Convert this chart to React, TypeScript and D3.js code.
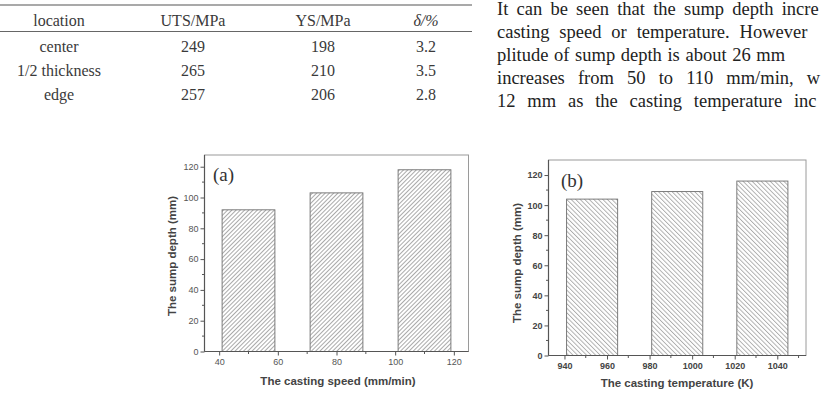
import * as d3 from 'd3';
import React, { useEffect, useRef } from 'react';

// mechanical properties table
const tableHeader = ['location', 'UTS/MPa', 'YS/MPa', 'δ/%'];
const locations = ['center', '1/2 thickness', 'edge'];
const utsValues = ['249', '265', '257'];
const ysValues = ['198', '210', '206'];
const elongValues = ['3.2', '3.5', '2.8'];

// body text beside the table
const paragraphLines = [
    'It can be seen that the sump depth incre',
    'casting speed or temperature. However',
    'plitude of sump depth is about 26 mm',
    'increases from 50 to 110 mm/min, w',
    '12 mm as the casting temperature inc',
];

// (a) sump depth vs casting speed
const speedValues = [50, 80, 110];
const speedDepth = [92, 103, 118];
const speedTicks = [40, 60, 80, 100, 120];

// (b) sump depth vs casting temperature
const tempValues = [953, 993, 1033];
const tempDepth = [104, 109, 116];
const tempTicks = [940, 960, 980, 1000, 1020, 1040];

const depthTicks = [0, 20, 40, 60, 80, 100, 120];

const W = 823;
const H = 394;

function drawPanel(svg, p) {
    const x = d3.scaleLinear().domain(p.xDomain).range([p.left, p.right]);
    const y = d3.scaleLinear().domain(p.yDomain).range([p.bottom, p.top]);
    const barW = x(p.xDomain[0] + p.barWidth) - x(p.xDomain[0]);

    const g = svg.append('g');

    // hatch fill
    const pat = svg.append('defs').append('pattern')
        .attr('id', p.id + '-hatch')
        .attr('patternUnits', 'userSpaceOnUse')
        .attr('width', p.hatchGap)
        .attr('height', 10)
        .attr('patternTransform', 'rotate(' + p.hatchAngle + ')');
    pat.append('rect').attr('width', p.hatchGap).attr('height', 10).attr('fill', '#fff');
    pat.append('line')
        .attr('x1', 0.5).attr('x2', 0.5).attr('y1', 0).attr('y2', 10)
        .attr('stroke', '#858585').attr('stroke-width', 0.7);

    // frame
    g.append('rect')
        .attr('x', p.left).attr('y', p.top)
        .attr('width', p.right - p.left).attr('height', p.bottom - p.top)
        .attr('fill', 'none').attr('stroke', '#9a9a9a').attr('stroke-width', 1);

    g.selectAll('.bar')
        .data(p.xs.map((v, i) => ({ x: v, y: p.ys[i] })))
        .enter()
        .append('rect')
        .attr('class', 'bar')
        .attr('x', d => x(d.x) - barW / 2)
        .attr('width', barW)
        .attr('y', d => y(d.y))
        .attr('height', d => y(0) - y(d.y))
        .attr('fill', 'url(#' + p.id + '-hatch)')
        .attr('stroke', '#6e6e6e')
        .attr('stroke-width', 0.9);

    const minorX = d3.range(p.xMinor[0], p.xMinor[1] + 1, 20);
    const minorY = d3.range(10, 130, 20);

    const xAxis = g.append('g').attr('transform', 'translate(0,' + p.bottom + ')');
    xAxis.call(d3.axisBottom(x).tickValues(p.xTicks).tickFormat(d3.format('d'))
        .tickSize(4).tickPadding(3).tickSizeOuter(0));
    xAxis.append('g').selectAll('line').data(minorX).enter().append('line')
        .attr('x1', d => x(d)).attr('x2', d => x(d)).attr('y1', 0).attr('y2', 2.5)
        .attr('stroke', '#555');

    const yAxis = g.append('g').attr('transform', 'translate(' + p.left + ',0)');
    yAxis.call(d3.axisLeft(y).tickValues(depthTicks).tickSize(4).tickPadding(2).tickSizeOuter(0));
    yAxis.append('g').selectAll('line').data(minorY).enter().append('line')
        .attr('y1', d => y(d)).attr('y2', d => y(d)).attr('x1', 0).attr('x2', -2.5)
        .attr('stroke', '#555');

    [xAxis, yAxis].forEach(a => {
        a.select('.domain').attr('stroke', '#555').attr('stroke-width', 1.2);
        a.selectAll('.tick line').attr('stroke', '#555');
        a.selectAll('.tick text')
            .attr('fill', p.tickWeight === 'bold' ? '#444' : '#555')
            .attr('font-family', 'Liberation Sans, Arial, sans-serif')
            .attr('font-size', 9)
            .attr('font-weight', p.tickWeight);
    });
    xAxis.select('.domain').attr('d', 'M' + p.left + ',0H' + p.right);
    yAxis.select('.domain').attr('d', 'M0,' + p.bottom + 'V' + p.top);

    g.append('text')
        .attr('x', p.xLabelX)
        .attr('y', p.xLabelY)
        .attr('text-anchor', 'middle')
        .attr('font-family', 'Liberation Sans, Arial, sans-serif')
        .attr('font-weight', 'bold')
        .attr('font-size', 11.5)
        .attr('fill', '#444')
        .text(p.xLabel);

    g.append('text')
        .attr('transform', 'translate(' + p.yLabelX + ',' + p.yLabelY + ') rotate(-90)')
        .attr('text-anchor', 'middle')
        .attr('font-family', 'Liberation Sans, Arial, sans-serif')
        .attr('font-weight', 'bold')
        .attr('font-size', 11.5)
        .attr('fill', '#444')
        .text('The sump depth (mm)');

    g.append('text')
        .attr('x', p.tagX).attr('y', p.tagY)
        .attr('font-family', 'Liberation Serif, Times New Roman, serif')
        .attr('font-size', 19)
        .attr('fill', '#333')
        .text(p.tag);
}

function drawTable(svg) {
    const colX = [59, 193, 323, 426];
    const serif = 'Liberation Serif, Times New Roman, serif';
    const t = svg.append('g').attr('font-family', serif).attr('font-size', 16).attr('fill', '#3a3a3a');

    t.append('line').attr('x1', 0).attr('x2', 472).attr('y1', 5).attr('y2', 5)
        .attr('stroke', '#555').attr('stroke-width', 1.2);
    t.append('line').attr('x1', 0).attr('x2', 472).attr('y1', 31.5).attr('y2', 31.5)
        .attr('stroke', '#666').attr('stroke-width', 1);

    tableHeader.forEach((h, i) => {
        t.append('text').attr('x', colX[i]).attr('y', 26)
            .attr('text-anchor', 'middle')
            .attr('font-style', i === 3 ? 'italic' : 'normal')
            .text(h);
    });

    const rows = locations.map((loc, i) => [loc, utsValues[i], ysValues[i], elongValues[i]]);
    rows.forEach((row, r) => {
        row.forEach((cell, i) => {
            t.append('text').attr('x', colX[i]).attr('y', 52 + r * 24)
                .attr('text-anchor', 'middle')
                .text(cell);
        });
    });
}

function drawParagraph(svg) {
    const p = svg.append('g')
        .attr('font-family', 'Liberation Serif, Times New Roman, serif')
        .attr('font-size', 18.5)
        .attr('fill', '#222');
    // justified lines: extra word spacing per line
    const spacing = [3.6, 5.3, 1, 8.5, 7.2];
    const baselines = [14.5, 37.5, 60.5, 83.5, 106.5];
    paragraphLines.forEach((line, i) => {
        p.append('text')
            .attr('x', 497)
            .attr('y', baselines[i])
            .attr('word-spacing', spacing[i])
            .text(line);
    });
}

export default function App() {
    const ref = useRef(null);

    useEffect(() => {
        const svg = d3.select(ref.current);
        svg.selectAll('*').remove();

        drawTable(svg);
        drawParagraph(svg);

        drawPanel(svg, {
            id: 'speed',
            left: 204.5, right: 468.5, top: 155, bottom: 351.5,
            xDomain: [35, 125], yDomain: [0, 127.6],
            xs: speedValues, ys: speedDepth, barWidth: 18,
            xTicks: speedTicks, xMinor: [50, 110],
            hatchAngle: 45, hatchGap: 3, tickWeight: 'normal',
            xLabel: 'The casting speed (mm/min)', xLabelX: 338, xLabelY: 385,
            yLabelX: 176, yLabelY: 256, tag: '(a)', tagX: 213, tagY: 181,
        });

        drawPanel(svg, {
            id: 'temp',
            left: 548.5, right: 806, top: 160, bottom: 355.5,
            xDomain: [932.5, 1053.5], yDomain: [0, 130],
            xs: tempValues, ys: tempDepth, barWidth: 24,
            xTicks: tempTicks, xMinor: [950, 1050],
            hatchAngle: -45, hatchGap: 3.2, tickWeight: 'bold',
            xLabel: 'The casting temperature (K)', xLabelX: 677, xLabelY: 386.5,
            yLabelX: 521, yLabelY: 263, tag: '(b)', tagX: 561, tagY: 187,
        });
    }, []);

    return (
        <svg ref={ref} width={W} height={H}
            style={{ position: 'absolute', left: 0, top: 0, background: '#fff' }} />
    );
}
